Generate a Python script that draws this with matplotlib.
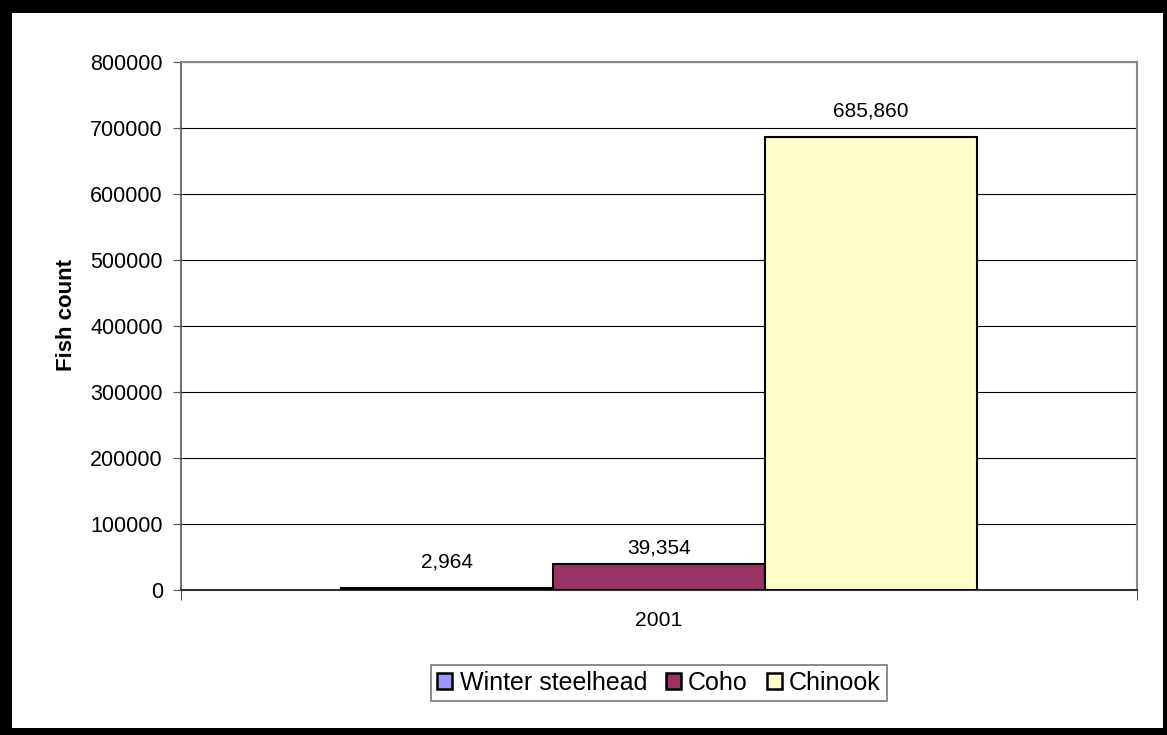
import matplotlib
matplotlib.use("Agg")
import matplotlib.pyplot as plt
from matplotlib.patches import Rectangle

categories = ["2001"]
series_names = ["Winter steelhead", "Coho", "Chinook"]
series_values = [2964, 39354, 685860]
series_colors = ["#9999FF", "#993366", "#FFFFCC"]
yticks = [0, 100000, 200000, 300000, 400000, 500000, 600000, 700000, 800000]

plt.rcParams['font.family'] = ['Liberation Sans', 'DejaVu Sans']

W, H = 1167, 735
fig = plt.figure(figsize=(W / 100, H / 100), dpi=100)
ax = fig.add_axes([181 / W, 1 - 590 / H, (1137 - 181) / W, (590 - 62) / H])

bw = 212 / 956
offsets = [-bw, 0, bw]
label_pad = [12, 5, 12]
for name, val, col, off, lp in zip(series_names, series_values, series_colors, offsets, label_pad):
    ax.bar(off, val, width=bw, color=col, edgecolor="black", linewidth=1.5, label=name, zorder=3)
    ax.annotate(f"{val:,}", (off, val), xytext=(0, lp), textcoords="offset points",
                ha="center", va="bottom", fontsize=15)

ax.set_xlim(-0.5, 0.5)
ax.set_ylim(0, 800000)
ax.set_yticks(yticks)
ax.set_yticklabels([str(v) for v in yticks], fontsize=15.5)
ax.yaxis.grid(True, color="black", linewidth=0.8, zorder=0)
ax.set_axisbelow(True)
ax.set_xticks([-0.5, 0.5])
ax.set_xticklabels(["", ""])
ax.tick_params(axis="x", length=7, color="#555555")
ax.tick_params(axis="y", length=6, color="#555555", pad=7)
fig.text(659 / W, 1 - 620 / H, categories[0], ha="center", va="center", fontsize=15.2)
ax.set_ylabel("Fish count", fontsize=16, fontweight="bold")
ax.yaxis.set_label_coords((77 - 181) / 956, (590 - 315) / 528)

for s in ["top", "right"]:
    ax.spines[s].set_color("#888888")
    ax.spines[s].set_linewidth(1.5)
ax.spines["left"].set_color("#555555")
ax.spines["bottom"].set_color("#333333")
ax.spines["left"].set_linewidth(1.2)
ax.spines["bottom"].set_linewidth(1.5)

leg = fig.legend(loc="center", bbox_to_anchor=(659 / W, 1 - 683 / H), ncol=3, fontsize=18,
                 frameon=True, fancybox=False, edgecolor="#555555",
                 handlelength=0.6, handleheight=0.6, handletextpad=0.3, columnspacing=0.75,
                 borderpad=0.25, borderaxespad=0)
leg.get_frame().set_linewidth(1.2)
for h in leg.legend_handles:
    h.set_linewidth(1.8)

# outer black frame
for (x0, y0, w, h) in [(0, 0, 12, H), (0, 0, W, 13), (W - 4, 0, 4, H), (0, 728, W, 7)]:
    fig.patches.append(Rectangle((x0 / W, 1 - (y0 + h) / H), w / W, h / H, transform=fig.transFigure,
                                 facecolor="black", edgecolor="none", zorder=10))

fig.savefig("out.png", dpi=100)
